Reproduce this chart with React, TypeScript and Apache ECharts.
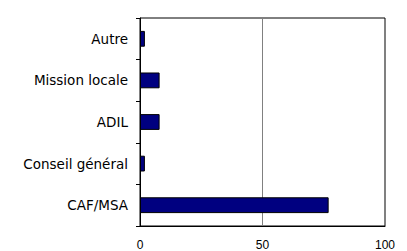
import React, { useEffect, useRef } from "react";
import * as echarts from "echarts";

const categories = ["CAF/MSA", "Conseil général", "ADIL", "Mission locale", "Autre"];
const values = [77, 2, 8, 8, 2];
const xTicks = [0, 50, 100];

export default function App() {
  const ref = useRef<HTMLDivElement>(null);
  useEffect(() => {
    if (!ref.current) return;
    const chart = echarts.init(ref.current, undefined, { renderer: "svg" });
    chart.setOption({
      animation: false,
      backgroundColor: "#ffffff",
      grid: {
        left: 140,
        right: 22,
        top: 18,
        bottom: 22,
        show: true,
        borderColor: "#000000",
        borderWidth: 1,
        backgroundColor: "transparent",
      },
      xAxis: {
        type: "value",
        min: xTicks[0],
        max: xTicks[xTicks.length - 1],
        interval: 50,
        axisLine: { show: true, lineStyle: { color: "#000000", width: 1 } },
        axisTick: { show: false },
        splitLine: { show: true, lineStyle: { color: "#808080", width: 1 } },
        axisLabel: {
          color: "#000000",
          fontFamily: "Liberation Sans",
          fontSize: 12,
          margin: 13,
        },
      },
      yAxis: {
        type: "category",
        data: categories,
        axisLine: { show: true, lineStyle: { color: "#000000", width: 1 } },
        axisTick: { show: true, length: 4, lineStyle: { color: "#000000" } },
        splitLine: { show: false },
        axisLabel: {
          color: "#000000",
          fontFamily: "DejaVu Sans",
          fontSize: 13.5,
          margin: 12,
          padding: [0, 0, 4, 0],
        },
      },
      series: [
        {
          type: "bar",
          data: values,
          barWidth: "38%",
          itemStyle: { color: "#000080", borderColor: "#000000", borderWidth: 1 },
        },
      ],
    });
    return () => chart.dispose();
  }, []);
  return <div ref={ref} style={{ width: 407, height: 251, position: "absolute", left: 0, top: 0 }} />;
}
